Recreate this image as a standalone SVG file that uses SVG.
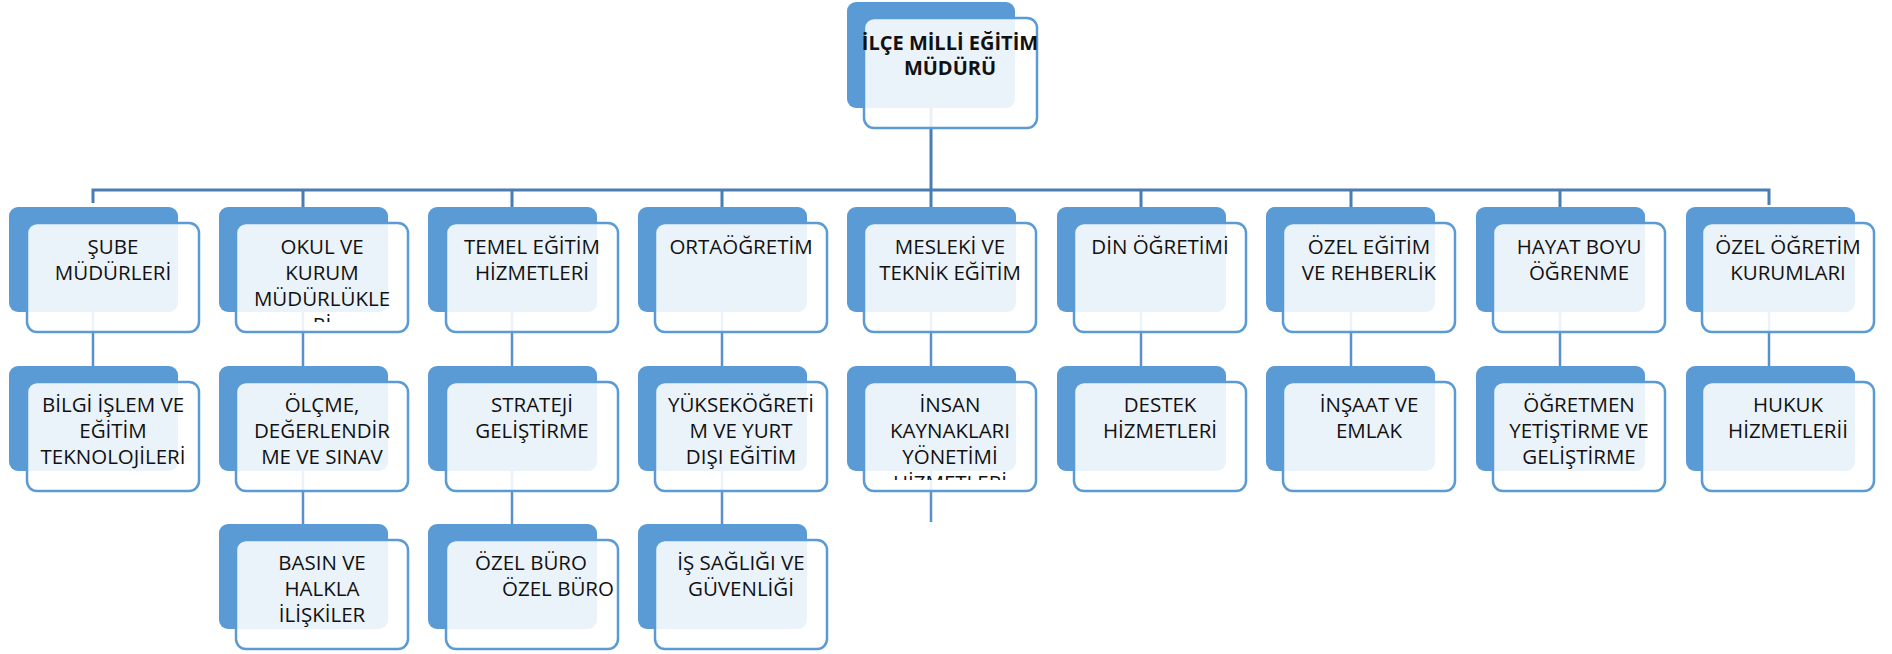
<svg xmlns="http://www.w3.org/2000/svg" width="1892" height="654" viewBox="0 0 1892 654">
<defs>
<style>
.bk{fill:#5B9BD5;}
.fr{fill:#FFFFFF;fill-opacity:0.88;stroke:#5B9BD5;stroke-width:2.5;}
.t{font-family:"Open Sans","Noto Sans","Liberation Sans",sans-serif;font-size:20.5px;fill:#111111;text-anchor:middle;}
.tb{font-family:"Open Sans","Noto Sans","Liberation Sans",sans-serif;font-size:20px;font-weight:bold;fill:#111111;text-anchor:middle;}
.c1{stroke:#4A7DB3;stroke-width:3;fill:none;}
.c2{stroke:#5A91CA;stroke-width:2.5;fill:none;}
</style>
<clipPath id="clipA"><rect x="236" y="223" width="172" height="99"/></clipPath>
<clipPath id="clipB"><rect x="864" y="382" width="172" height="98"/></clipPath>
</defs>
<rect x="0" y="0" width="1892" height="654" fill="#FFFFFF"/>
<g id="connectors">
<path class="c1" d="M931 108 V190 M93 203 V190 H1769 V205"/>
<path class="c1" d="M303 190 V207 M512 190 V207 M722 190 V207 M931 190 V207 M1141 190 V207 M1351 190 V207 M1560 190 V207"/>
<path class="c2" d="M93 312 V366 M303 312 V366 M512 312 V366 M722 312 V366 M931 312 V366 M1141 312 V366 M1351 312 V366 M1560 312 V366 M1769 312 V366"/>
<path class="c2" d="M303 471 V524 M512 471 V524 M722 471 V524 M931 471 V522"/>
</g>
<g id="node-top">
<rect class="bk" x="847" y="2" width="168" height="106" rx="9"/>
<rect class="fr" x="864" y="18" width="173" height="110" rx="10"/>
<text class="tb" x="950" y="50">İLÇE MİLLİ EĞİTİM</text>
<text class="tb" x="950" y="75">MÜDÜRÜ</text>
</g>
<g id="node-sube">
<rect class="bk" x="9" y="207" width="169" height="105" rx="9"/>
<rect class="fr" x="27" y="223" width="172" height="109" rx="10"/>
<text class="t" x="113" y="254">ŞUBE</text>
<text class="t" x="113" y="280">MÜDÜRLERİ</text>
</g>
<g id="node-okul">
<rect class="bk" x="219" y="207" width="169" height="105" rx="9"/>
<rect class="fr" x="236" y="223" width="172" height="109" rx="10"/>
<g clip-path="url(#clipA)">
<text class="t" x="322" y="254">OKUL VE</text>
<text class="t" x="322" y="280">KURUM</text>
<text class="t" x="322" y="306">MÜDÜRLÜKLE</text>
<text class="t" x="322" y="332">Rİ</text>
</g>
</g>
<g id="node-temel">
<rect class="bk" x="428" y="207" width="169" height="105" rx="9"/>
<rect class="fr" x="446" y="223" width="172" height="109" rx="10"/>
<text class="t" x="532" y="254">TEMEL EĞİTİM</text>
<text class="t" x="532" y="280">HİZMETLERİ</text>
</g>
<g id="node-orta">
<rect class="bk" x="638" y="207" width="169" height="105" rx="9"/>
<rect class="fr" x="655" y="223" width="172" height="109" rx="10"/>
<text class="t" x="741" y="254">ORTAÖĞRETİM</text>
</g>
<g id="node-mesleki">
<rect class="bk" x="847" y="207" width="169" height="105" rx="9"/>
<rect class="fr" x="864" y="223" width="172" height="109" rx="10"/>
<text class="t" x="950" y="254">MESLEKİ VE</text>
<text class="t" x="950" y="280">TEKNİK EĞİTİM</text>
</g>
<g id="node-din">
<rect class="bk" x="1057" y="207" width="169" height="105" rx="9"/>
<rect class="fr" x="1074" y="223" width="172" height="109" rx="10"/>
<text class="t" x="1160" y="254">DİN ÖĞRETİMİ</text>
</g>
<g id="node-ozelegitim">
<rect class="bk" x="1266" y="207" width="169" height="105" rx="9"/>
<rect class="fr" x="1283" y="223" width="172" height="109" rx="10"/>
<text class="t" x="1369" y="254">ÖZEL EĞİTİM</text>
<text class="t" x="1369" y="280">VE REHBERLİK</text>
</g>
<g id="node-hayat">
<rect class="bk" x="1476" y="207" width="169" height="105" rx="9"/>
<rect class="fr" x="1493" y="223" width="172" height="109" rx="10"/>
<text class="t" x="1579" y="254">HAYAT BOYU</text>
<text class="t" x="1579" y="280">ÖĞRENME</text>
</g>
<g id="node-ozelogretim">
<rect class="bk" x="1686" y="207" width="169" height="105" rx="9"/>
<rect class="fr" x="1702" y="223" width="172" height="109" rx="10"/>
<text class="t" x="1788" y="254">ÖZEL ÖĞRETİM</text>
<text class="t" x="1788" y="280">KURUMLARI</text>
</g>
<g id="node-bilgi">
<rect class="bk" x="9" y="366" width="169" height="105" rx="9"/>
<rect class="fr" x="27" y="382" width="172" height="109" rx="10"/>
<text class="t" x="113" y="412">BİLGİ İŞLEM VE</text>
<text class="t" x="113" y="438">EĞİTİM</text>
<text class="t" x="113" y="464">TEKNOLOJİLERİ</text>
</g>
<g id="node-olcme">
<rect class="bk" x="219" y="366" width="169" height="105" rx="9"/>
<rect class="fr" x="236" y="382" width="172" height="109" rx="10"/>
<text class="t" x="322" y="412">ÖLÇME,</text>
<text class="t" x="322" y="438">DEĞERLENDİR</text>
<text class="t" x="322" y="464">ME VE SINAV</text>
</g>
<g id="node-strateji">
<rect class="bk" x="428" y="366" width="169" height="105" rx="9"/>
<rect class="fr" x="446" y="382" width="172" height="109" rx="10"/>
<text class="t" x="532" y="412">STRATEJİ</text>
<text class="t" x="532" y="438">GELİŞTİRME</text>
</g>
<g id="node-yuksek">
<rect class="bk" x="638" y="366" width="169" height="105" rx="9"/>
<rect class="fr" x="655" y="382" width="172" height="109" rx="10"/>
<text class="t" x="741" y="412">YÜKSEKÖĞRETİ</text>
<text class="t" x="741" y="438">M VE YURT</text>
<text class="t" x="741" y="464">DIŞI EĞİTİM</text>
</g>
<g id="node-insan">
<rect class="bk" x="847" y="366" width="169" height="105" rx="9"/>
<rect class="fr" x="864" y="382" width="172" height="109" rx="10"/>
<g clip-path="url(#clipB)">
<text class="t" x="950" y="412">İNSAN</text>
<text class="t" x="950" y="438">KAYNAKLARI</text>
<text class="t" x="950" y="464">YÖNETİMİ</text>
<text class="t" x="950" y="490">HİZMETLERİ</text>
</g>
</g>
<g id="node-destek">
<rect class="bk" x="1057" y="366" width="169" height="105" rx="9"/>
<rect class="fr" x="1074" y="382" width="172" height="109" rx="10"/>
<text class="t" x="1160" y="412">DESTEK</text>
<text class="t" x="1160" y="438">HİZMETLERİ</text>
</g>
<g id="node-insaat">
<rect class="bk" x="1266" y="366" width="169" height="105" rx="9"/>
<rect class="fr" x="1283" y="382" width="172" height="109" rx="10"/>
<text class="t" x="1369" y="412">İNŞAAT VE</text>
<text class="t" x="1369" y="438">EMLAK</text>
</g>
<g id="node-ogretmen">
<rect class="bk" x="1476" y="366" width="169" height="105" rx="9"/>
<rect class="fr" x="1493" y="382" width="172" height="109" rx="10"/>
<text class="t" x="1579" y="412">ÖĞRETMEN</text>
<text class="t" x="1579" y="438">YETİŞTİRME VE</text>
<text class="t" x="1579" y="464">GELİŞTİRME</text>
</g>
<g id="node-hukuk">
<rect class="bk" x="1686" y="366" width="169" height="105" rx="9"/>
<rect class="fr" x="1702" y="382" width="172" height="109" rx="10"/>
<text class="t" x="1788" y="412">HUKUK</text>
<text class="t" x="1788" y="438">HİZMETLERİİ</text>
</g>
<g id="node-basin">
<rect class="bk" x="219" y="524" width="169" height="105" rx="9"/>
<rect class="fr" x="236" y="540" width="172" height="109" rx="10"/>
<text class="t" x="322" y="570">BASIN VE</text>
<text class="t" x="322" y="596">HALKLA</text>
<text class="t" x="322" y="622">İLİŞKİLER</text>
</g>
<g id="node-ozelburo">
<rect class="bk" x="428" y="524" width="169" height="105" rx="9"/>
<rect class="fr" x="446" y="540" width="172" height="109" rx="10"/>
<text class="t" x="531" y="570">ÖZEL BÜRO</text>
<text class="t" x="558" y="596">ÖZEL BÜRO</text>
</g>
<g id="node-isg">
<rect class="bk" x="638" y="524" width="169" height="105" rx="9"/>
<rect class="fr" x="655" y="540" width="172" height="109" rx="10"/>
<text class="t" x="741" y="570">İŞ SAĞLIĞI VE</text>
<text class="t" x="741" y="596">GÜVENLİĞİ</text>
</g>
</svg>
